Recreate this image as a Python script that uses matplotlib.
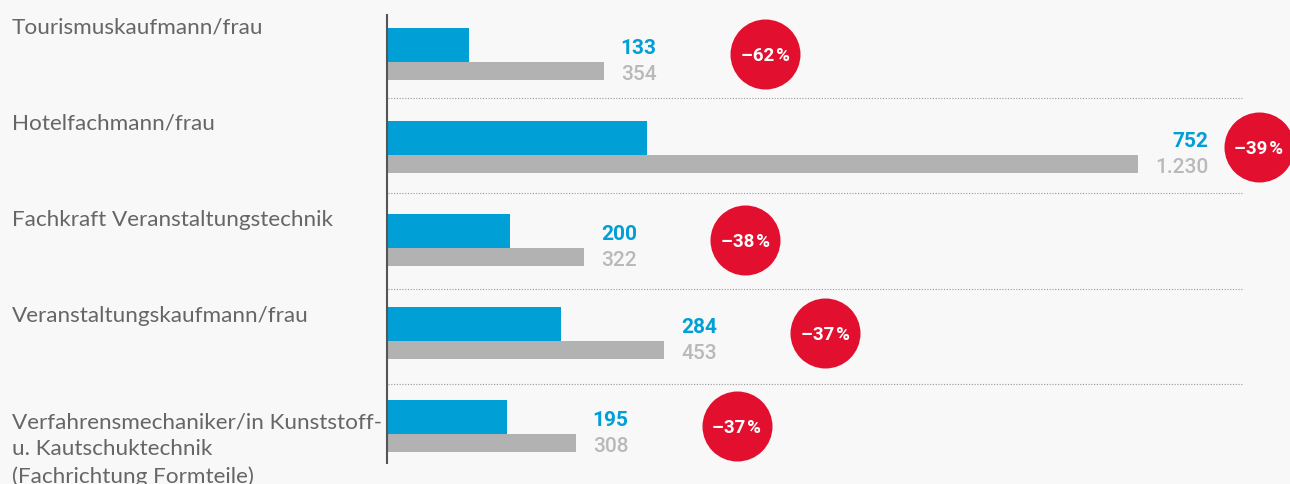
import matplotlib
matplotlib.use("Agg")
import matplotlib.pyplot as plt

# Ausbildungsberufe mit dem stärksten Rückgang
berufe = [
    "Tourismuskaufmann/frau",
    "Hotelfachmann/frau",
    "Fachkraft Veranstaltungstechnik",
    "Veranstaltungskaufmann/frau",
    "Verfahrensmechaniker/in Kunststoff-\nu. Kautschuktechnik\n(Fachrichtung Formteile)",
]
aktuell = [133, 752, 200, 284, 195]
vorjahr = [354, 1230, 322, 453, 308]
# Balkenlängen wie in der Vorlage gezeichnet (Hotelfachmann-Balken ist dort kürzer als 752)
balken_aktuell = [133, 425, 200, 284, 195]

BLUE = "#009fd6"
GRAY_BAR = "#b2b2b2"
GRAY_TXT = "#b9b9b9"
RED = "#e20f2f"
BG = "#f8f8f8"

W, H = 1290, 485
fig = plt.figure(figsize=(W / 100, H / 100), dpi=100, facecolor=BG)

x0 = 388  # pixel where bars start
ppu = 0.61  # pixels per unit
PX = 1 / ppu
ax = fig.add_axes([x0 / W, 0, (W - x0) / W, 1])
ax.set_facecolor(BG)
ax.set_xlim(0, (W - x0) * PX)
ax.set_ylim(H, 0)  # y in pixels from top
ax.axis("off")

num_font = ["Roboto", "DejaVu Sans"]
lab_font = ["Lato", "DejaVu Sans"]


def fmt(v):
    return f"{v:,}".replace(",", ".")


ax.vlines(-1 * PX, 15, 465, color="#555555", lw=1.5, clip_on=False)

pitch = 93
for i, (name, a, b, v) in enumerate(zip(berufe, aktuell, balken_aktuell, vorjahr)):
    top = 29 + pitch * i
    ax.barh(top + 17, b, height=34, color=BLUE, left=0)
    ax.barh(top + 34 + 9, v, height=18, color=GRAY_BAR, left=0)

    # category label (baseline of last line)
    n_lines = name.count("\n")
    fig.text(12 / W, 1 - (33 + 96.3 * i + 32.5 * n_lines) / H, name,
             ha="left", va="baseline", fontsize=16.2, color="#666666",
             family=lab_font, fontweight="normal", linespacing=1.44)

    # value labels, right aligned to each other
    t_gray = ax.text(v + 17 * PX, top + 51, fmt(v), ha="left", va="baseline",
                     fontsize=15, color=GRAY_TXT, family=num_font, fontweight="medium")
    fig.canvas.draw()
    bb = t_gray.get_window_extent().transformed(ax.transData.inverted())
    ax.text(bb.x1, top + 25.5, fmt(a), ha="right", va="baseline",
            fontsize=15, color=BLUE, family=num_font, fontweight="bold")

    # change circle
    cx = min(v + 161 * PX, (1259 - x0) * PX)
    cy = top + 26
    ax.scatter([cx], [cy], s=50.4 ** 2, color=RED, zorder=3, clip_on=False, linewidths=0)
    pct = round((a - v) / v * 100)
    ax.text(cx, cy + 1, f"\u2013{abs(pct)}\u200a%", ha="center", va="center",
            fontsize=13.5, color="white", family=num_font, fontweight="bold", zorder=4)

    if i < len(berufe) - 1:
        ax.hlines(99 + 95.3 * i, 0, (1242 - x0) * PX, color="#999999",
                  lw=0.8, linestyles=(0, (1, 1.5)))

fig.savefig("out.png", dpi=100, facecolor=BG)
